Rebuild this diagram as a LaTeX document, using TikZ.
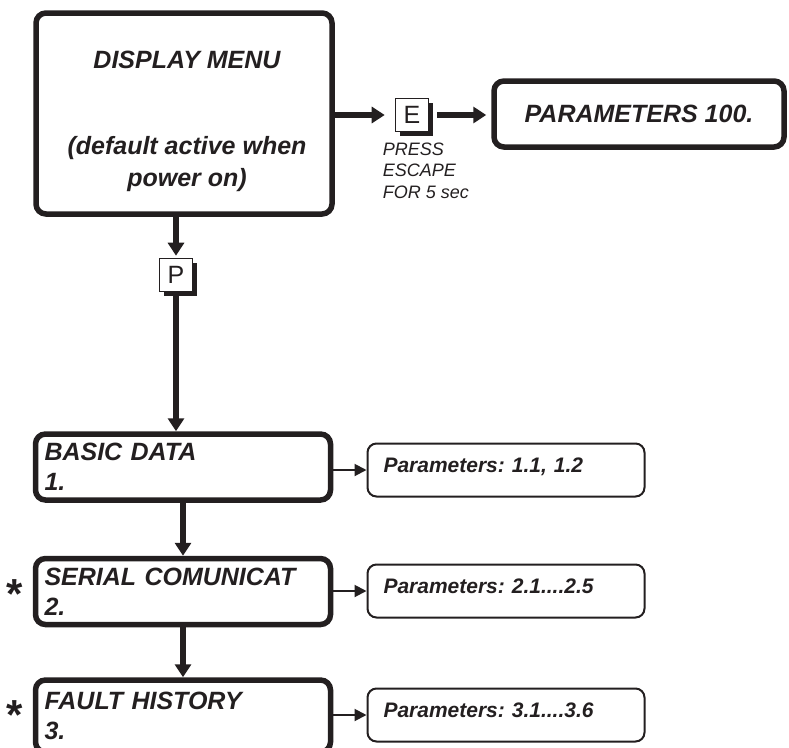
\documentclass[tikz,border=0pt]{standalone}
\usepackage{fontspec}
\setmainfont{Liberation Sans}
\usepackage{xcolor}
\usetikzlibrary{arrows.meta,shadows}
\definecolor{ink}{HTML}{231F20}
\frenchspacing

\begin{document}
\begin{tikzpicture}[x=1pt,y=-1pt,
	menubox/.style={draw=ink, line width=5.5pt, rounded corners=10pt, text=ink, font=\fontsize{25}{30}\selectfont\bfseries\itshape},
	menutext/.style={text=ink, inner sep=0pt, font=\fontsize{25}{32}\selectfont\bfseries\itshape},
	levelbox/.style={menubox, minimum width=295pt, minimum height=66pt, inner xsep=9pt, text width=277pt, align=left},
	parbox/.style={draw=ink, line width=2pt, rounded corners=9pt, minimum width=277pt, minimum height=53pt, inner xsep=16pt, text width=245pt, align=left, text height=15pt, text depth=10pt, text=ink, font=\fontsize{21}{25}\selectfont\bfseries\itshape},
	keybox/.style={draw=ink, line width=1.6pt, fill=white, minimum size=33pt, inner sep=0pt, text=ink, font=\fontsize{25}{25}\selectfont, drop shadow={shadow xshift=4.5pt, shadow yshift=-4.5pt, fill=ink, opacity=1}},
	notetext/.style={text=ink, inner sep=0pt, font=\fontsize{18}{21.5}\selectfont\itshape},
	starmark/.style={text=ink, inner sep=0pt, font=\fontsize{42}{42}\selectfont\bfseries},
	mainarrow/.style={draw=ink, line width=5.5pt, -{Triangle[length=13pt,width=16pt]}},
	subarrow/.style={draw=ink, line width=2pt, -{Triangle[length=12pt,width=12pt]}}
]
	\useasboundingbox (0,0) rectangle (789,747);

	\node[menubox, minimum width=296pt, minimum height=201pt] (dmenu) at (184,113.5) {};
	\node[menutext] (dtitle) at (187,60) {DISPLAY MENU};
	\node[menutext, align=center] (dnote) at (187,164) {(default active when\\power on)};

	\node[keybox] (ekey) at (412,115) {E};
	\node[notetext, anchor=north west, align=left] (enote) at ([xshift=-12pt,yshift=-10pt]ekey.south west) {PRESS\\ESCAPE\\FOR 5 sec};
	\node[menubox, minimum width=290pt, minimum height=66pt] (par100) at (639,114) {PARAMETERS 100.};

	\node[keybox] (pkey) at (176,275) {P};

	\node[levelbox] (basic) at (183,467) {BASIC DATA\\1.};
	\node[levelbox] (serial) at (183,591.5) {SERIAL COMUNICAT\\2.};
	\node[levelbox, minimum height=72pt] (fault) at (183,716) {FAULT HISTORY\\3.};
	\node[starmark] (sstar) at (15,594) {*};
	\node[starmark] (fstar) at (15,715) {*};

	\node[parbox] (pbasic) at (506,470) {Parameters: 1.1, 1.2};
	\node[parbox] (pserial) at (506,591) {Parameters: 2.1....2.5};
	\node[parbox] (pfault) at (506,715) {Parameters: 3.1....3.6};

	\draw[mainarrow, shorten >=10pt] (dmenu.east |- ekey) -- (ekey.west);
	\draw[mainarrow, shorten <=8pt, shorten >=5pt] (ekey.east) -- (par100.west |- ekey);
	\draw[mainarrow, shorten >=2pt] (dmenu.south -| pkey) -- (pkey.north);
	\draw[mainarrow, shorten <=4pt] (pkey.south) -- (pkey.south |- basic.north);
	\draw[mainarrow] (basic) -- (serial);
	\draw[mainarrow] (serial) -- (fault);

	\draw[subarrow] (basic.east |- pbasic) -- (pbasic.west);
	\draw[subarrow] (serial.east |- pserial) -- (pserial.west);
	\draw[subarrow] (fault.east |- pfault) -- (pfault.west);
\end{tikzpicture}
\end{document}
